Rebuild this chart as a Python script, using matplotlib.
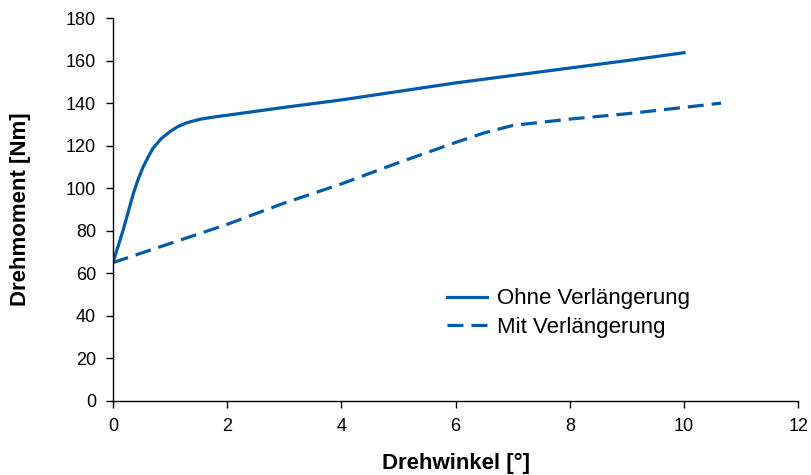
import matplotlib.pyplot as plt

plt.rcParams['font.family'] = ['Liberation Sans', 'DejaVu Sans']

# Drehmoment ueber Drehwinkel
ohne_x = [0, 0.09, 0.18, 0.27, 0.36, 0.44, 0.53, 0.62, 0.7, 0.85, 1.0, 1.14, 1.3, 1.52, 1.8, 2.0, 3.0, 4.0, 5.0, 6.0, 7.0, 8.0, 9.0, 10.0]
ohne_y = [65, 72.5, 80.3, 89, 97.6, 104, 110, 114.8, 118.7, 123.4, 126.6, 129, 130.8, 132.4, 133.6, 134.3, 138, 141.5, 145.5, 149.5, 153, 156.5, 160, 163.7]

mit_x = [0, 1, 2, 3, 4, 5, 6, 6.5, 7, 7.5, 8, 9, 10, 10.65]
mit_y = [65, 74, 83, 93, 102, 112, 121.5, 126, 129.5, 131, 132.5, 135, 138, 140]

x_ticks = [0, 2, 4, 6, 8, 10, 12]
y_ticks = [0, 20, 40, 60, 80, 100, 120, 140, 160, 180]

blue = '#005BAA'

fig = plt.figure(figsize=(8.12, 4.75), dpi=100)
ax = fig.add_axes([0.139, 0.156, 0.844, 0.806])

ax.plot(ohne_x, ohne_y, color=blue, lw=2.3, label='Ohne Verlängerung')
ax.plot(mit_x, mit_y, color=blue, lw=2.3, dashes=(5, 2.5), label='Mit Verlängerung')

ax.set_xlim(0, 12)
ax.set_ylim(0, 180)
ax.set_xticks(x_ticks)
ax.set_yticks(y_ticks)
ax.tick_params(labelsize=13, length=5, width=1, direction='out', pad=7)
for s in ['top', 'right']:
    ax.spines[s].set_visible(False)
for s in ['left', 'bottom']:
    ax.spines[s].set_linewidth(1)

ax.set_xlabel('Drehwinkel [°]', fontsize=16, fontweight='bold', labelpad=13)
ax.set_ylabel('Drehmoment [Nm]', fontsize=16, fontweight='bold', labelpad=25)

ax.legend(loc='upper left', bbox_to_anchor=(0.472, 0.323), frameon=False, fontsize=16,
          borderpad=0, handlelength=1.8, handletextpad=0.45, labelspacing=0.35)

fig.savefig('out.png', dpi=100)
